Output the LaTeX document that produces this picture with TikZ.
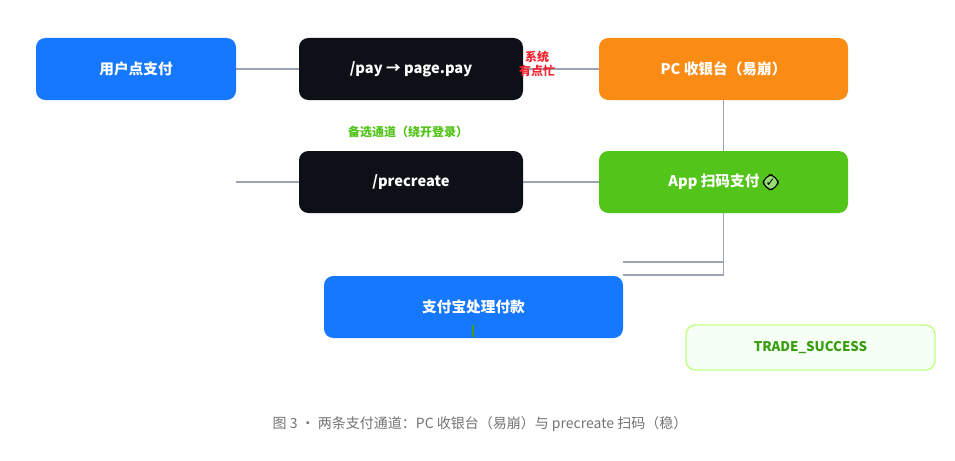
\documentclass[tikz,border=0pt]{standalone}
\usepackage{fontspec}
\setmainfont{Noto Sans CJK SC}
\newfontfamily\symfont{DejaVu Sans}
\usetikzlibrary{positioning}
\definecolor{cblue}{HTML}{1677FF}
\definecolor{cdark}{HTML}{0D1117}
\definecolor{corange}{HTML}{FA8C16}
\definecolor{cgreen}{HTML}{52C41A}
\definecolor{cline}{HTML}{9AA5B1}
\definecolor{cred}{HTML}{F5222D}
\definecolor{tgreen}{HTML}{389E0D}
\tikzset{
  box/.style={rounded corners=7pt, minimum height=46.5pt, text=white,
    font=\bfseries\fontsize{11}{13}\selectfont, inner sep=0pt},
  link/.style={draw=cline, line width=1.4pt}
}
\begin{document}
\begin{tikzpicture}[x=0.75pt,y=-0.75pt]
\useasboundingbox (0,0) rectangle (955,460);
\begin{scope}[on background layer/.style={}]
% links drawn first, boxes on top
\coordinate (p1) at (723.5,262);
\coordinate (p2) at (723.5,275);
\coordinate (q1) at (623,262);
\coordinate (q2) at (623,275);
\coordinate (in) at (236,182);
\draw[link] (723.5,69) -- (p2);
\draw[link] (p1) -- (q1);
\draw[link] (p2) -- (q2);
\draw[link] (in) -- (299,182);
\draw[link] (136,69) -- (411,69) -- (723.5,69);
\draw[link] (411,182) -- (723.5,182);
\end{scope}
\node[box, fill=cblue, minimum width=150pt] (user) at (136,69) {用户点支付};
\node[box, fill=cdark, minimum width=168pt] (pay) at (411,69) {/pay → page.pay};
\node[box, fill=corange, minimum width=186.75pt] (pc) at (723.5,69) {PC 收银台（易崩）};
\node[box, fill=cdark, minimum width=168pt] (pre) at (411,182) {/precreate};
\node[box, fill=cgreen, minimum width=186.75pt] (app) at (723.5,182) {App 扫码支付 \tikz[baseline=-3pt]\node[draw=black,line width=0.8pt,fill=cgreen!60!white,inner sep=0.5pt,minimum size=11pt,text=black,font=\symfont\bfseries\fontsize{9}{9}\selectfont]{✓};};
\node[box, fill=cblue, minimum width=224.25pt] (ali) at (473.5,307) {支付宝处理付款};
\node[box, fill=green!4!white, draw=green!30!lime!50!white, line width=1pt, text=tgreen,
  minimum width=186.75pt, minimum height=33.75pt, font=\bfseries\fontsize{10}{12}\selectfont]
  (trade) at (810.5,347.5) {TRADE\_SUCCESS};
\coordinate (tick) at (473,325);
\draw[cgreen!80!black, line width=1.2pt] (tick) -- (473,337);
\node[text=cred, font=\bfseries\fontsize{9}{10}\selectfont, align=center, inner sep=0pt]
  (busy) at (537,64) {系统\\有点忙};
\node[text=cgreen, font=\bfseries\fontsize{9}{10}\selectfont] (alt) at (408,132) {备选通道（绕开登录）};
\node[text=gray!90!black, font=\fontsize{10.5}{12}\selectfont] (cap) at (480,424)
  {图 3 · 两条支付通道：PC 收银台（易崩）与 precreate 扫码（稳）};
\end{tikzpicture}
\end{document}
